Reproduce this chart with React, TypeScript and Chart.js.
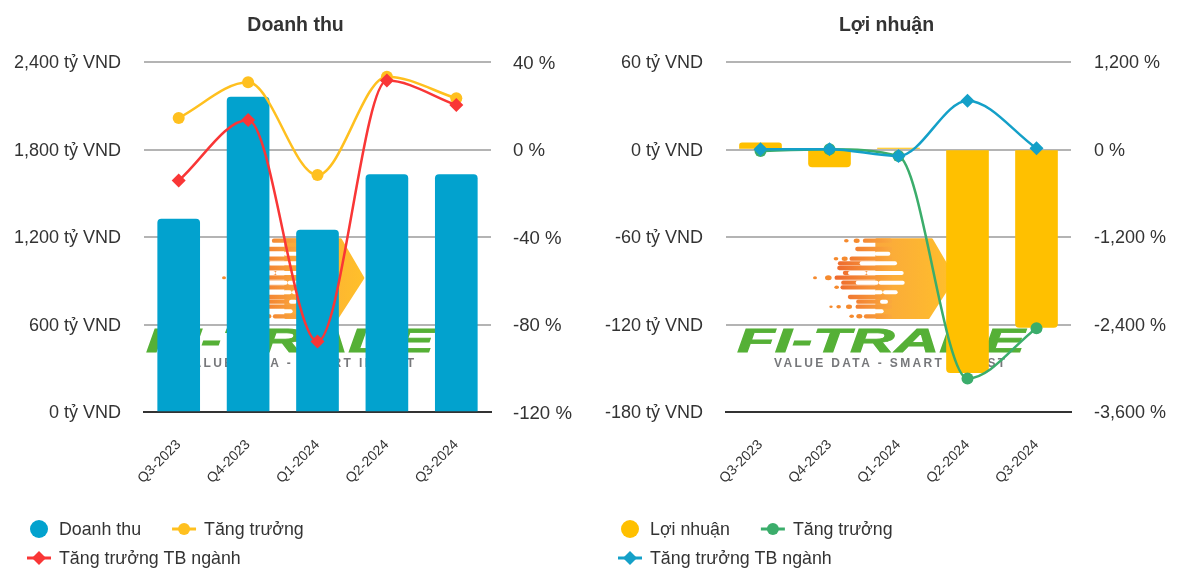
import React, { useEffect, useRef } from "react";
import { Chart, registerables } from "chart.js";

Chart.register(...registerables);

const categories = ["Q3-2023", "Q4-2023", "Q1-2024", "Q2-2024", "Q3-2024"];

const revenue = [1323, 2160, 1248, 1628, 1628];
const revenueGrowth = [14.4, 30.7, -11.7, 33.3, 23.4];
const revenueIndustry = [-14.2, 13.5, -87.8, 31.5, 20.3];

const profit = [4.6, -12, 1, -153, -122];
const profitGrowth = [-20, 3, -90, -3140, -2450];
const profitIndustry = [3, 5, -90, 670, 16];

const FONT = '"Liberation Sans", Arial, sans-serif';
const TEXT = "#333333";

// Watermark layout, in units of a third of a pixel
const LOGO_DOTS: number[][] = [
  [349, 32, 7], [380, 32, 9], [318, 86, 7], [344, 86, 9], [255, 143, 6], [295, 143, 10],
  [320, 172, 7], [303, 230, 5], [326, 230, 7], [357, 230, 9], [365, 259, 7], [388, 259, 9],
];
const LOGO_ORANGE: number[][] = [
  [405, 32, 480], [382, 57, 480], [365, 86, 480], [330, 100, 480], [328, 114, 480], [345, 129, 480],
  [320, 143, 480], [340, 158, 480], [338, 172, 480], [360, 201, 480], [385, 215, 480], [383, 230, 480],
  [408, 259, 480],
];
const LOGO_WHITE: number[][] = [
  [440, 71, 475], [395, 100, 495], [360, 129, 403], [415, 129, 515], [383, 158, 440], [452, 158, 518],
  [438, 187, 452], [465, 187, 497], [456, 215, 468], [410, 244, 455],
];

function drawLogo(ctx: CanvasRenderingContext2D) {
  ctx.save();
  ctx.translate(139, 230);
  ctx.scale(1 / 3, 1 / 3);
  const hexGrad = ctx.createLinearGradient(440, 0, 678, 0);
  hexGrad.addColorStop(0, "#FAA83C");
  hexGrad.addColorStop(1, "#FFC02A");
  ctx.fillStyle = hexGrad;
  ctx.strokeStyle = hexGrad;
  ctx.lineJoin = "round";
  ctx.lineWidth = 8;
  ctx.beginPath();
  ctx.moveTo(440, 29);
  ctx.lineTo(605, 29);
  ctx.lineTo(672, 144);
  ctx.lineTo(595, 263);
  ctx.lineTo(440, 263);
  ctx.closePath();
  ctx.fill();
  ctx.stroke();

  const streak = ctx.createLinearGradient(320, 0, 480, 0);
  streak.addColorStop(0, "#EE6A2E");
  streak.addColorStop(1, "#FAA83C");
  ctx.lineCap = "round";
  ctx.strokeStyle = streak;
  ctx.fillStyle = streak;
  ctx.lineWidth = 13;
  for (const [x0, y, x1] of LOGO_ORANGE) {
    ctx.beginPath();
    ctx.moveTo(x0, y);
    ctx.lineTo(x1, y);
    ctx.stroke();
  }
  const dotGrad = "#F58A2E";
  ctx.fillStyle = dotGrad;
  for (const [x, y, r] of LOGO_DOTS) {
    ctx.beginPath();
    ctx.ellipse(x, y, r, r * 0.75, 0, 0, Math.PI * 2);
    ctx.fill();
  }
  ctx.strokeStyle = "#FFFFFF";
  ctx.lineWidth = 12;
  for (const [x0, y, x1] of LOGO_WHITE) {
    ctx.beginPath();
    ctx.moveTo(x0, y);
    ctx.lineTo(x1, y);
    ctx.stroke();
  }
  ctx.restore();

  // Wordmark
  ctx.save();
  const word = "FI-TRADE";
  ctx.font = `italic bold 33px ${FONT}`;
  ctx.textAlign = "left";
  ctx.textBaseline = "alphabetic";
  const w = ctx.measureText(word).width;
  const g = ctx.createLinearGradient(146, 0, 436, 0);
  g.addColorStop(0, "#55B036");
  g.addColorStop(0.5, "#6DBB3C");
  g.addColorStop(1, "#8CC63F");
  ctx.fillStyle = g;
  ctx.strokeStyle = g;
  ctx.lineWidth = 0.8;
  ctx.translate(146, 352);
  ctx.scale(288 / w, 1);
  ctx.fillText(word, 0, 0);
  ctx.strokeText(word, 0, 0);
  ctx.restore();

  ctx.save();
  ctx.font = `bold 12px ${FONT}`;
  (ctx as any).letterSpacing = "2.35px";
  ctx.fillStyle = "#77787B";
  ctx.textAlign = "left";
  ctx.textBaseline = "alphabetic";
  ctx.fillText("VALUE DATA - SMART INVEST", 183, 367);
  ctx.restore();
}

const logoPlugin = {
  id: "logoMark",
  beforeDatasetsDraw(chart: any) {
    drawLogo(chart.ctx);
  },
};

const legendPlugin = {
  id: "rowLegend",
  afterDraw(chart: any) {
    const ctx: CanvasRenderingContext2D = chart.ctx;
    const rows = [[0, 1], [2]];
    const ys = [529, 558];
    ctx.save();
    ctx.font = `17.8px ${FONT}`;
    ctx.textBaseline = "middle";
    ctx.textAlign = "left";
    rows.forEach((row, r) => {
      let x = 27;
      row.forEach((i) => {
        const ds = chart.data.datasets[i];
        const y = ys[r];
        const cx = x + 12;
        if (ds.type === "bar") {
          ctx.fillStyle = ds.backgroundColor;
          ctx.beginPath();
          ctx.arc(cx, y, 9, 0, Math.PI * 2);
          ctx.fill();
        } else {
          ctx.strokeStyle = ds.borderColor;
          ctx.lineWidth = 3;
          ctx.beginPath();
          ctx.moveTo(x, y);
          ctx.lineTo(x + 24, y);
          ctx.stroke();
          ctx.fillStyle = ds.pointBackgroundColor;
          ctx.beginPath();
          if (ds.pointStyle === "rectRot") {
            const s = ds.pointRadius;
            ctx.moveTo(cx - s, y);
            ctx.lineTo(cx, y - s);
            ctx.lineTo(cx + s, y);
            ctx.lineTo(cx, y + s);
            ctx.closePath();
          } else {
            ctx.arc(cx, y, ds.pointRadius, 0, Math.PI * 2);
          }
          ctx.fill();
        }
        ctx.fillStyle = TEXT;
        ctx.fillText(ds.label, x + 32, y + 1);
        x += 32 + ctx.measureText(ds.label).width + 31;
      });
    });
    ctx.restore();
  },
};

type Spec = {
  title: string;
  barLabel: string;
  barColor: string;
  bars: number[];
  growth: number[];
  growthColor: string;
  growthStyle: string;
  growthRadius: number;
  industry: number[];
  industryColor: string;
  industryRadius: number;
  leftMin: number;
  leftMax: number;
  leftStep: number;
  rightMin: number;
  rightMax: number;
  rightStep: number;
  leftWidth: number;
  rightWidth: number;
  rightFont: number;
  rightPad: number;
};

function build(canvas: HTMLCanvasElement, s: Spec) {
  const fmt = (v: number) => v.toLocaleString("en-US");
  return new Chart(canvas, {
    type: "bar",
    plugins: [logoPlugin, legendPlugin],
    data: {
      labels: categories,
      datasets: [
        {
          type: "bar",
          label: s.barLabel,
          data: s.bars,
          backgroundColor: s.barColor,
          borderRadius: 4,
          barThickness: 42,
          yAxisID: "y",
          order: 3,
        },
        {
          type: "line",
          label: "Tăng trưởng",
          data: s.growth,
          borderColor: s.growthColor,
          backgroundColor: s.growthColor,
          pointBackgroundColor: s.growthColor,
          pointBorderColor: s.growthColor,
          pointStyle: s.growthStyle,
          pointRadius: s.growthRadius,
          pointBorderWidth: 0,
          borderWidth: 2.5,
          cubicInterpolationMode: "monotone",
          yAxisID: "y1",
          clip: false,
          order: 2,
        },
        {
          type: "line",
          label: "Tăng trưởng TB ngành",
          data: s.industry,
          borderColor: s.industryColor,
          backgroundColor: s.industryColor,
          pointBackgroundColor: s.industryColor,
          pointBorderColor: s.industryColor,
          pointStyle: "rectRot",
          pointRadius: s.industryRadius,
          pointBorderWidth: 0,
          borderWidth: 2.5,
          cubicInterpolationMode: "monotone",
          yAxisID: "y1",
          clip: false,
          order: 1,
        },
      ] as any,
    },
    options: {
      responsive: false,
      animation: false,
      layout: { padding: 0 },
      plugins: {
        legend: { display: false },
        tooltip: { enabled: false },
        title: {
          display: true,
          text: s.title,
          color: TEXT,
          font: { family: FONT, size: 19.5, weight: "bold" },
          padding: { top: 14, bottom: 24.6 },
        },
      },
      scales: {
        x: {
          offset: true,
          grid: { display: false, drawTicks: false },
          border: { display: true, color: "#333333", width: 2 },
          ticks: {
            color: TEXT,
            font: { family: FONT, size: 14 },
            minRotation: 45,
            maxRotation: 45,
            padding: 24.5,
            autoSkip: false,
          },
          afterFit(scale: any) {
            scale.height = 173;
          },
        },
        y: {
          position: "left",
          min: s.leftMin,
          max: s.leftMax,
          grid: {
            color: (c: any) => (c.tick && c.tick.value === s.leftMin ? "rgba(0,0,0,0)" : "#B4B4B4"),
            lineWidth: 2,
            drawTicks: false,
          },
          border: { display: false },
          ticks: {
            stepSize: s.leftStep,
            color: TEXT,
            font: { family: FONT, size: 18 },
            padding: 23,
            labelOffset: 1.5,
            callback: (v: any) => `${fmt(Number(v))} tỷ VND`,
          },
          afterFit(scale: any) {
            scale.width = s.leftWidth;
          },
        },
        y1: {
          position: "right",
          min: s.rightMin,
          max: s.rightMax,
          grid: { display: false, drawTicks: false },
          border: { display: false },
          ticks: {
            stepSize: s.rightStep,
            color: TEXT,
            font: { family: FONT, size: s.rightFont },
            padding: s.rightPad,
            labelOffset: 1.5,
            callback: (v: any) => `${fmt(Number(v))} %`,
          },
          afterFit(scale: any) {
            scale.width = s.rightWidth;
          },
        },
      },
    } as any,
  });
}

export default function App() {
  const leftRef = useRef<HTMLCanvasElement>(null);
  const rightRef = useRef<HTMLCanvasElement>(null);

  useEffect(() => {
    const a = build(leftRef.current!, {
      title: "Doanh thu",
      barLabel: "Doanh thu",
      barColor: "#02A2CE",
      bars: revenue,
      growth: revenueGrowth,
      growthColor: "#FFC01F",
      growthStyle: "circle",
      growthRadius: 6,
      industry: revenueIndustry,
      industryColor: "#F93636",
      industryRadius: 7,
      leftMin: 0,
      leftMax: 2400,
      leftStep: 600,
      rightMin: -120,
      rightMax: 40,
      rightStep: 40,
      leftWidth: 144,
      rightWidth: 100,
      rightFont: 18.6,
      rightPad: 22,
    });
    const b = build(rightRef.current!, {
      title: "Lợi nhuận",
      barLabel: "Lợi nhuận",
      barColor: "#FFC000",
      bars: profit,
      growth: profitGrowth,
      growthColor: "#3BAD6B",
      growthStyle: "circle",
      growthRadius: 6,
      industry: profitIndustry,
      industryColor: "#14A0C8",
      industryRadius: 7,
      leftMin: -180,
      leftMax: 60,
      leftStep: 60,
      rightMin: -3600,
      rightMax: 1200,
      rightStep: 1200,
      leftWidth: 135,
      rightWidth: 111,
      rightFont: 18,
      rightPad: 23,
    });
    return () => {
      a.destroy();
      b.destroy();
    };
  }, []);

  return (
    <div style={{ position: "fixed", left: 0, top: 0, width: 1182, height: 585, background: "#fff", overflow: "hidden" }}>
      <canvas ref={leftRef} width={591} height={585} style={{ position: "absolute", left: 0, top: 0 }} />
      <canvas ref={rightRef} width={591} height={585} style={{ position: "absolute", left: 591, top: 0 }} />
    </div>
  );
}
